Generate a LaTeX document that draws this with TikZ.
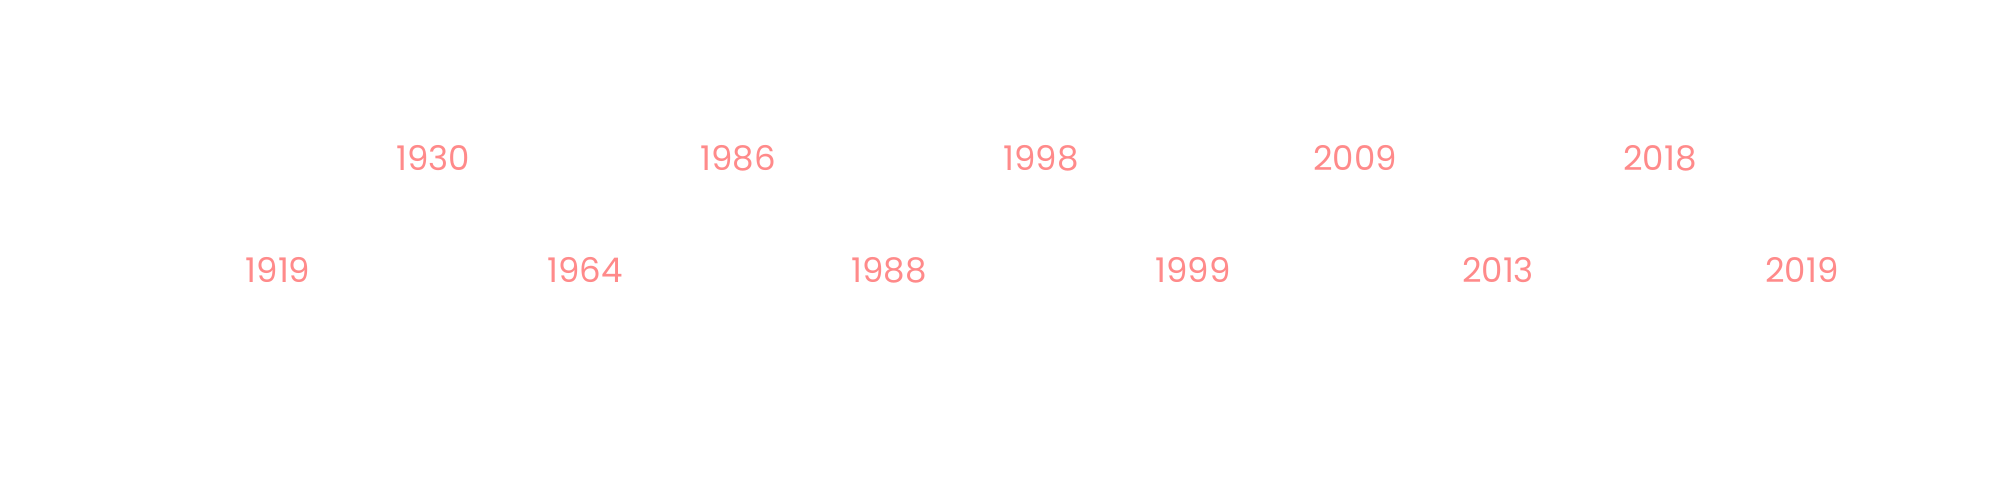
\documentclass[tikz,border=0pt]{standalone}
\usepackage{fontspec}
\setmainfont{Poppins}
\definecolor{yearpink}{HTML}{FF8A8A}
\tikzset{year/.style={anchor=base, inner sep=0pt, text=yearpink, font=\fontsize{17}{17}\selectfont}}
\begin{document}
\begin{tikzpicture}[x=0.5pt,y=-0.5pt]
\useasboundingbox (0,0) rectangle (2016,490);
% top row (baseline at 171px)
\node[year] (y1930) at (433,171) {1930};
\node[year] (y1986) at (738,171) {1986};
\node[year] (y1998) at (1041,171) {1998};
\node[year] (y2009) at (1355,171) {2009};
\node[year] (y2018) at (1660,171) {2018};
% bottom row (baseline at 283px)
\node[year] (y1919) at (278,283) {1919};
\node[year] (y1964) at (585,283) {1964};
\node[year] (y1988) at (889,283) {1988};
\node[year] (y1999) at (1193,283) {1999};
\node[year] (y2013) at (1498,283) {2013};
\node[year] (y2019) at (1802,283) {2019};
\end{tikzpicture}
\end{document}
